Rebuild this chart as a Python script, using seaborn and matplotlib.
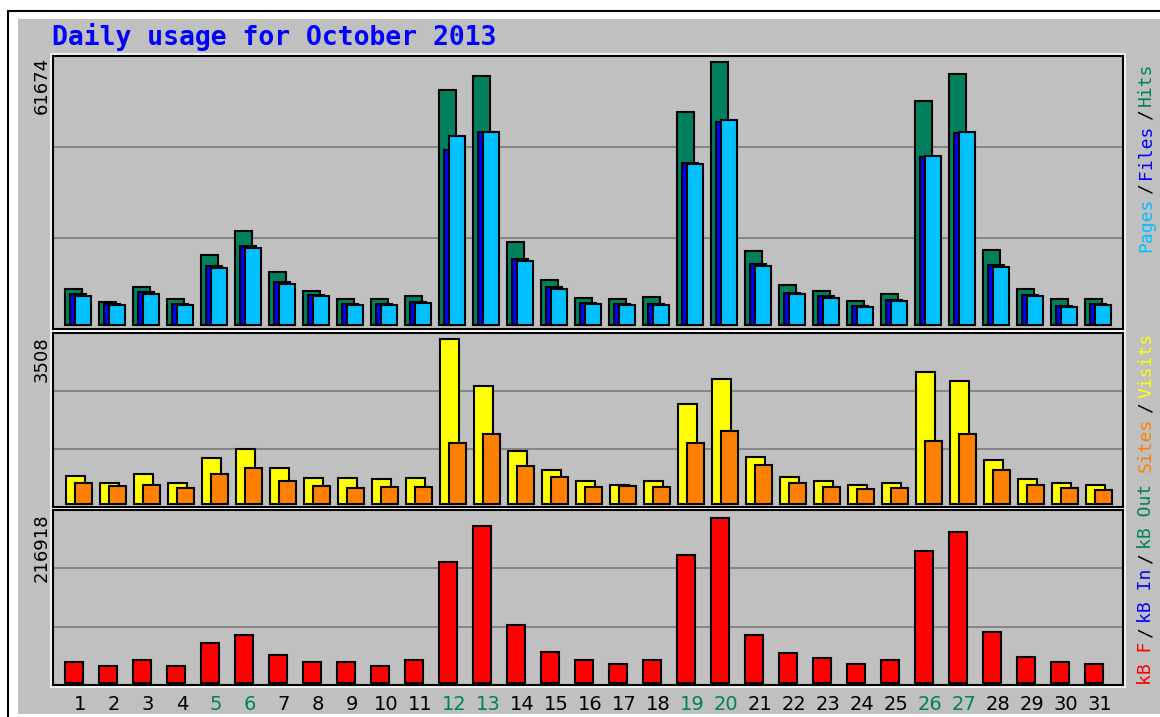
import numpy as np
import matplotlib
matplotlib.use("Agg")
import matplotlib.pyplot as plt
import seaborn as sns
from matplotlib.patches import Rectangle

sns.set_theme(style="whitegrid")
plt.rcParams['font.family'] = ['DejaVu Sans']

# ---- data ----
days = np.arange(1, 32)
weekend_days = [5, 6, 12, 13, 19, 20, 26, 27]

hits = [8442, 5394, 8911, 6097, 16415, 22043, 12429, 7973, 6097, 6097, 6801,
        55108, 58391, 19464, 10553, 6332, 6097, 6566, 49949, 61674, 17353,
        9380, 7973, 5628, 7270, 52529, 58860, 17588, 8442, 6097, 6097]
files = [7300, 5000, 7700, 5000, 13800, 18500, 10000, 7100, 5000, 5000, 5400,
         41000, 45300, 15500, 8800, 5200, 5000, 5000, 37900, 47500, 14300,
         7600, 6700, 4500, 5900, 39400, 45000, 14000, 7100, 4500, 5000]
pages = [6801, 4690, 7270, 4690, 13367, 18057, 9615, 6801, 4690, 4690, 5159,
         44321, 45259, 15008, 8442, 4925, 4690, 4690, 37755, 48073, 13836,
         7270, 6332, 4221, 5628, 39631, 45259, 13601, 6801, 4221, 4690]
visits = [595, 446, 638, 446, 978, 1169, 765, 553, 553, 531, 553,
          3508, 2509, 1127, 723, 489, 404, 489, 2126, 2657, 999,
          574, 489, 404, 446, 2806, 2615, 935, 531, 446, 404]
sites = [446, 383, 404, 340, 638, 765, 489, 383, 340, 361, 361,
         1297, 1488, 808, 574, 361, 383, 361, 1297, 1552, 829,
         446, 361, 319, 340, 1339, 1488, 723, 404, 340, 298]
kbytes = [27609, 22350, 30238, 22350, 52588, 63106, 36812, 27609, 27609, 22350, 30238,
          159078, 206408, 76253, 40756, 30238, 24979, 30238, 168281, 216918, 63106,
          39441, 32868, 24979, 30238, 173540, 198520, 67050, 34182, 27609, 24979]

# ---- colours ----
C_HITS, C_FILES, C_PAGES = "#00805C", "#0000FF", "#00C0FF"
C_VISITS, C_SITES, C_KB = "#FFFF00", "#FF8000", "#FF0000"
C_BG = "#C0C0C0"

W, H = 1160, 717
fig = plt.figure(figsize=(W / 100, H / 100), dpi=100)
fig.patch.set_facecolor("white")


def fx(x):
    return x / W


def fy(y):
    return 1 - y / H


# outer frame + grey panel (behind the axes)
fig.patches.append(Rectangle((fx(8), fy(740)), fx(1170) - fx(8), fy(11) - fy(740),
                             transform=fig.transFigure, fill=False, ec="black", lw=1.5,
                             zorder=-3))
fig.patches.append(Rectangle((fx(18), fy(714)), fx(1170) - fx(18), fy(19) - fy(714),
                             transform=fig.transFigure, fc=C_BG, ec="none", zorder=-2))

# panel boxes (pixel coords): left, top, right, bottom
LEFT, RIGHT = 53, 1123
panels = [(56, 329), (333, 507), (510, 685)]
axes = []
for top, bot in panels:
    fig.patches.append(Rectangle((fx(LEFT - 2), fy(bot + 2)), fx(RIGHT + 2) - fx(LEFT - 2),
                                 fy(top - 2) - fy(bot + 2), transform=fig.transFigure,
                                 fill=False, ec="white", lw=1.2, zorder=-1))
    ax = fig.add_axes([fx(LEFT), fy(bot), fx(RIGHT) - fx(LEFT), fy(top) - fy(bot)])
    ax.set_facecolor(C_BG)
    axes.append(ax)

x_lo, x_hi = 1 - 27 / 34, 1 + (RIGHT - 80) / 34


def bars(ax, offset, width, vals, color, z):
    sns.barplot(x=days + offset, y=vals, native_scale=True, width=width, orient="x",
                color=color, edgecolor="black", linewidth=1.5, saturation=1,
                errorbar=None, ax=ax, zorder=z)


# top: hits / files / pages
bars(axes[0], -0.19, 0.50, hits, C_HITS, 2)
bars(axes[0], -0.06, 0.47, files, C_FILES, 3)
bars(axes[0], 0.09, 0.47, pages, C_PAGES, 4)
# middle: visits / sites
bars(axes[1], -0.13, 0.56, visits, C_VISITS, 2)
bars(axes[1], 0.10, 0.50, sites, C_SITES, 3)
# bottom: kB
bars(axes[2], -0.18, 0.53, kbytes, C_KB, 2)

limits = [(-4 / 263, 269 / 263, max(hits)),
          (-3 / 165, 171 / 165, max(visits)),
          (-2 / 165, 173 / 165, max(kbytes))]
for ax, (lo, hi, m) in zip(axes, limits):
    lo, hi = lo * m, hi * m
    ax.set_ylim(lo, hi)
    ax.set_xlim(x_lo, x_hi)
    ax.set_yticks([lo + (hi - lo) / 3, lo + 2 * (hi - lo) / 3])
    ax.set_yticklabels([])
    ax.grid(False)
    ax.grid(axis="y", color="#808080", lw=1.3, zorder=0)
    ax.set_axisbelow(True)
    ax.tick_params(length=0)
    ax.set_xlabel("")
    ax.set_ylabel("")
    for s in ax.spines.values():
        s.set_color("black")
        s.set_linewidth(1.5)
    ax.set_xticks([])

# day labels
axes[2].set_xticks(days)
axes[2].set_xticklabels([str(d) for d in days], fontsize=14, family="DejaVu Sans")
axes[2].tick_params(axis="x", pad=7)
for lab, d in zip(axes[2].get_xticklabels(), days):
    lab.set_color(C_HITS if d in weekend_days else "black")

# title
fig.text(fx(52), fy(37), "Daily usage for October 2013", color="#0000FF",
         family="DejaVu Sans Mono", weight="bold", fontsize=19, ha="left", va="center")

# maximum values on the left
for val, top in [(max(hits), 57), (max(visits), 336), (max(kbytes), 513)]:
    fig.text(fx(42), fy(top), str(val), rotation=90, ha="center", va="top",
             fontsize=13, color="black")

# coloured legends on the right, rotated
fig.canvas.draw()
renderer = fig.canvas.get_renderer()


def legend_text(pieces, y_start, from_top):
    seq = list(reversed(pieces)) if from_top else pieces
    y = y_start
    for txt, col in seq:
        t = fig.text(fx(1146), fy(y), txt, rotation=90, ha="center",
                     va="top" if from_top else "bottom", color=col,
                     family="DejaVu Sans Mono", fontsize=13)
        h = t.get_window_extent(renderer).height
        y = y + h + 4 if from_top else y - h - 4


legend_text([("Pages", C_PAGES), ("/", "black"), ("Files", C_FILES),
             ("/", "black"), ("Hits", C_HITS)], 62, True)
legend_text([("Sites", C_SITES), ("/", "black"), ("Visits", C_VISITS)], 333, True)
legend_text([("kB F", C_KB), ("/", "black"), ("kB In", C_FILES),
             ("/", "black"), ("kB Out", C_HITS)], 685, False)

fig.savefig("out.png", dpi=100, facecolor=fig.get_facecolor())
